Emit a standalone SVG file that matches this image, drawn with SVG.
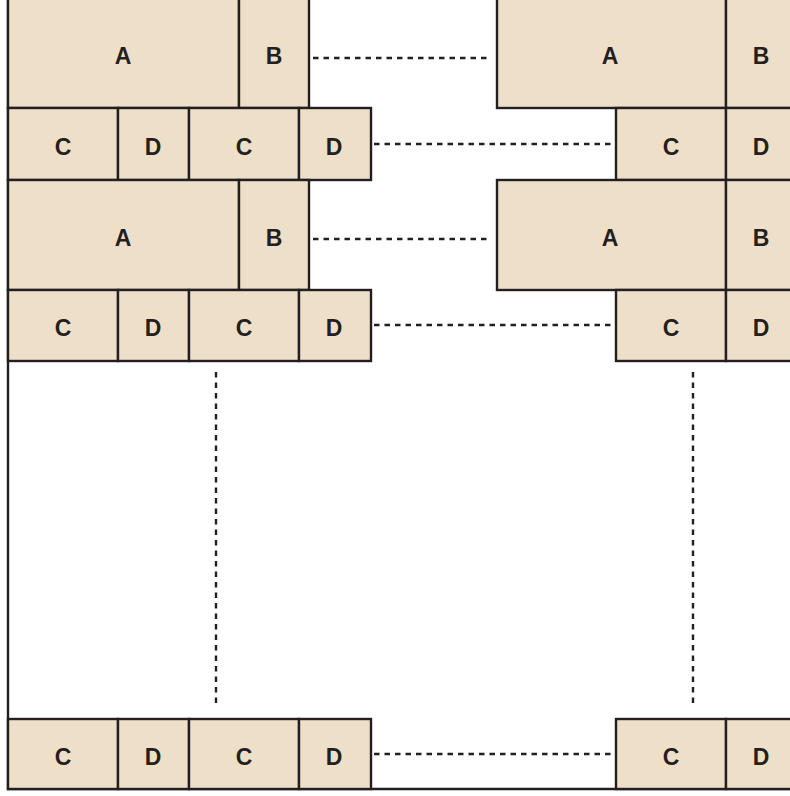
<svg xmlns="http://www.w3.org/2000/svg" width="790" height="796" viewBox="0 0 790 796">
<style>
.c{fill:#EEDFC8;stroke:#231f20;stroke-width:2.4}
.t{font-family:"Liberation Sans",Arial,sans-serif;font-weight:bold;font-size:23px;fill:#231f20;text-anchor:middle}
.d{stroke:#231f20;stroke-width:2.4;stroke-dasharray:5.5 5;fill:none}
.f{stroke:#231f20;stroke-width:2.4;fill:none}
</style>
<rect width="790" height="796" fill="#fff"/>
<g id="frame">
<path class="f" d="M8,0 V789 H790"/>
</g>
<g id="left-ab-1">
<rect class="c" x="8" y="-2" width="231" height="110"/><text class="t" x="123" y="64">A</text>
<rect class="c" x="239" y="-2" width="70" height="110"/><text class="t" x="274" y="64">B</text>
</g>
<g id="left-cd-1">
<rect class="c" x="8" y="108" width="110" height="72"/><text class="t" x="63" y="155">C</text>
<rect class="c" x="118" y="108" width="71" height="72"/><text class="t" x="153" y="155">D</text>
<rect class="c" x="189" y="108" width="110" height="72"/><text class="t" x="244" y="155">C</text>
<rect class="c" x="299" y="108" width="72" height="72"/><text class="t" x="334" y="155">D</text>
</g>
<g id="left-ab-2">
<rect class="c" x="8" y="180" width="231" height="110"/><text class="t" x="123" y="246">A</text>
<rect class="c" x="239" y="180" width="70" height="110"/><text class="t" x="274" y="246">B</text>
</g>
<g id="left-cd-2">
<rect class="c" x="8" y="290" width="110" height="71"/><text class="t" x="63" y="336">C</text>
<rect class="c" x="118" y="290" width="71" height="71"/><text class="t" x="153" y="336">D</text>
<rect class="c" x="189" y="290" width="110" height="71"/><text class="t" x="244" y="336">C</text>
<rect class="c" x="299" y="290" width="72" height="71"/><text class="t" x="334" y="336">D</text>
</g>
<g id="left-cd-3">
<rect class="c" x="8" y="719" width="110" height="70"/><text class="t" x="63" y="765">C</text>
<rect class="c" x="118" y="719" width="71" height="70"/><text class="t" x="153" y="765">D</text>
<rect class="c" x="189" y="719" width="110" height="70"/><text class="t" x="244" y="765">C</text>
<rect class="c" x="299" y="719" width="72" height="70"/><text class="t" x="334" y="765">D</text>
</g>
<g id="right-ab-1">
<rect class="c" x="497" y="-2" width="229" height="110"/><text class="t" x="610" y="64">A</text>
<rect class="c" x="726" y="-2" width="80" height="110"/><text class="t" x="761" y="64">B</text>
</g>
<g id="right-cd-1">
<rect class="c" x="616" y="108" width="110" height="72"/><text class="t" x="671" y="155">C</text>
<rect class="c" x="726" y="108" width="80" height="72"/><text class="t" x="761" y="155">D</text>
</g>
<g id="right-ab-2">
<rect class="c" x="497" y="180" width="229" height="110"/><text class="t" x="610" y="246">A</text>
<rect class="c" x="726" y="180" width="80" height="110"/><text class="t" x="761" y="246">B</text>
</g>
<g id="right-cd-2">
<rect class="c" x="616" y="290" width="110" height="71"/><text class="t" x="671" y="336">C</text>
<rect class="c" x="726" y="290" width="80" height="71"/><text class="t" x="761" y="336">D</text>
</g>
<g id="right-cd-3">
<rect class="c" x="616" y="719" width="110" height="70"/><text class="t" x="671" y="765">C</text>
<rect class="c" x="726" y="719" width="80" height="70"/><text class="t" x="761" y="765">D</text>
</g>
<g id="connectors">
<line class="d" x1="313" y1="58" x2="491" y2="58"/>
<line class="d" x1="374" y1="144" x2="611" y2="144"/>
<line class="d" x1="313" y1="239" x2="491" y2="239"/>
<line class="d" x1="374" y1="325" x2="611" y2="325"/>
<line class="d" x1="374" y1="754" x2="611" y2="754"/>
<line class="d" x1="216" y1="372" x2="216" y2="704"/>
<line class="d" x1="693" y1="372" x2="693" y2="704"/>
</g>
</svg>
